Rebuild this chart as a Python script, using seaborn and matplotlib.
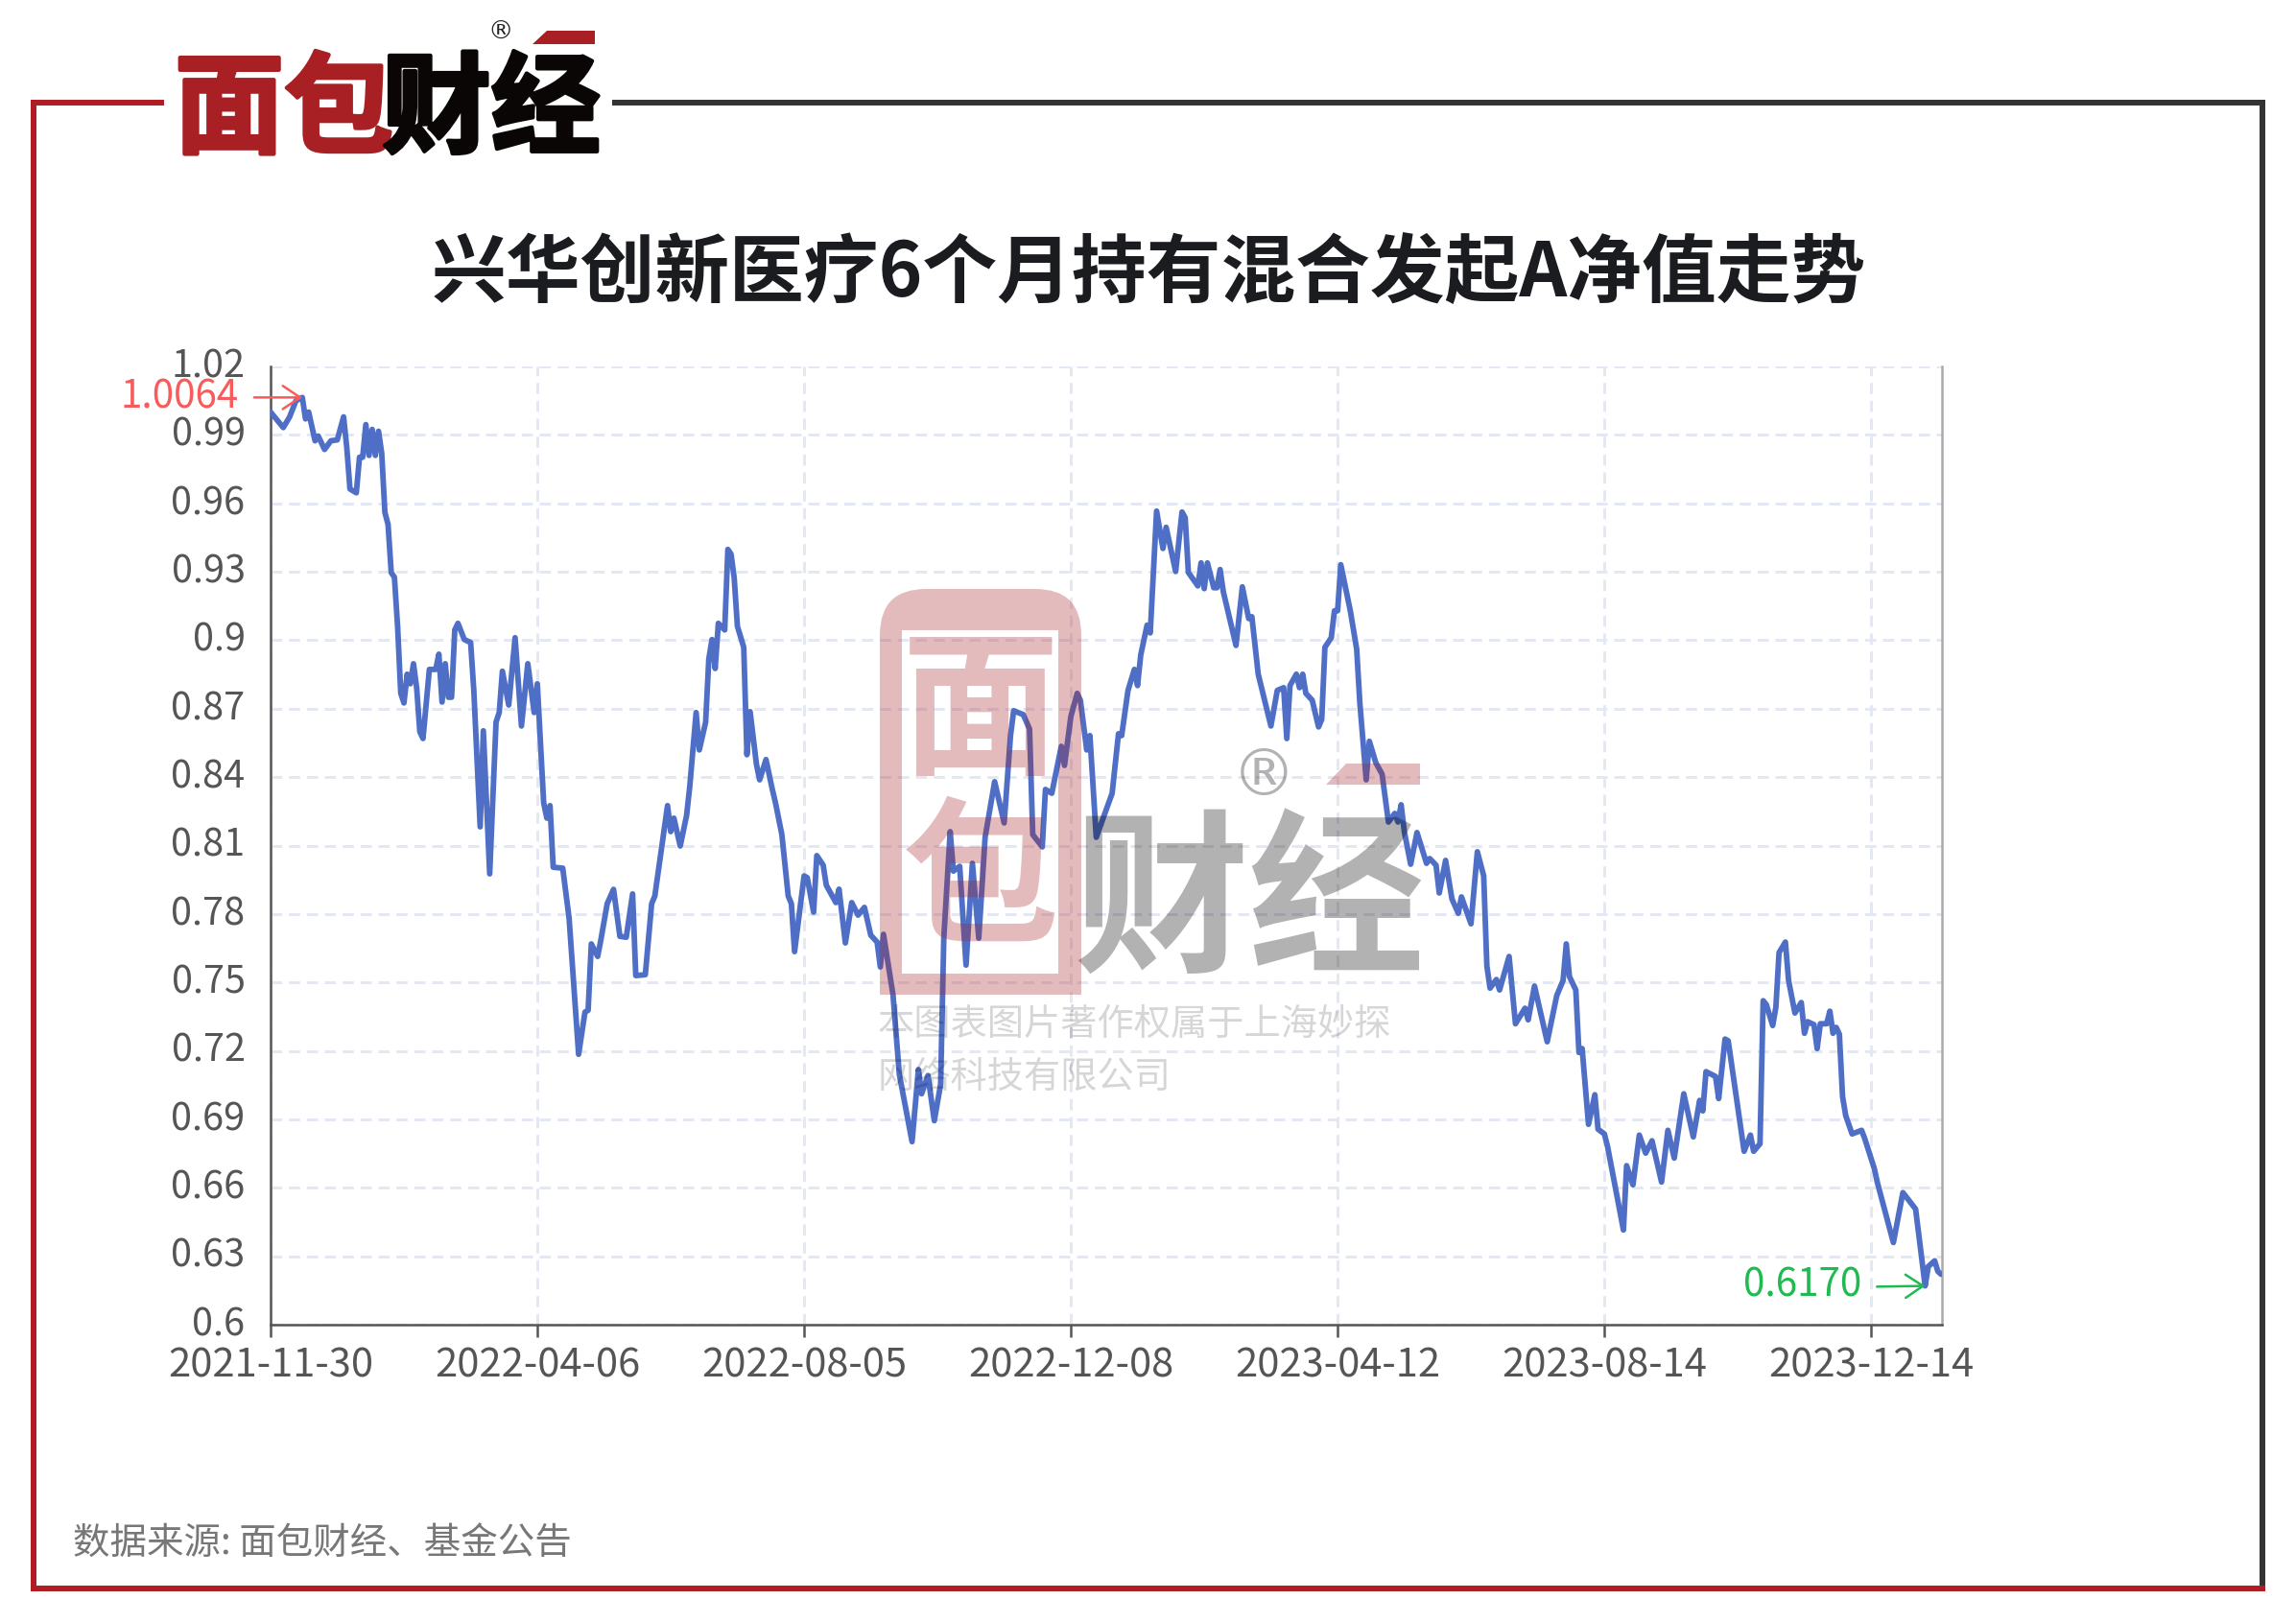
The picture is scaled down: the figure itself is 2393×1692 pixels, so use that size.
import matplotlib
matplotlib.use("Agg")
import matplotlib.pyplot as plt
import matplotlib.patheffects as pe
from matplotlib.lines import Line2D
from matplotlib.patches import PathPatch, Polygon
from matplotlib.path import Path
from matplotlib.transforms import ScaledTranslation
import pandas as pd
import seaborn as sns

# trading day index from the start date, and the net value read at that day
trading_day = [
    0, 4, 6, 8, 10, 11, 12, 14, 15, 17, 19, 21, 23, 24, 25, 27, 28, 29, 30, 31,
    32, 33, 34, 35, 36, 37, 38, 39, 40, 41, 42, 43, 44, 45, 46, 47, 48, 50, 52, 53,
    54, 55, 56, 57, 58, 59, 61, 63, 64, 66, 67, 69, 71, 72, 73, 75, 77, 79, 81, 83,
    84, 86, 87, 88, 89, 92, 94, 97, 99, 100, 101, 103, 104, 106, 108, 110, 112, 114, 115, 118,
    120, 121, 125, 126, 127, 129, 131, 132, 134, 135, 137, 138, 139, 140, 141, 143, 144, 145, 146, 147,
    149, 150, 151, 153, 154, 156, 158, 159, 161, 163, 164, 165, 168, 169, 171, 172, 174, 175, 178, 179,
    181, 183, 185, 187, 189, 191, 192, 193, 196, 198, 202, 204, 205, 207, 209, 211, 212, 214, 215, 217,
    219, 221, 223, 225, 228, 231, 233, 234, 237, 239, 240, 243, 244, 246, 249, 250, 252, 254, 255, 257,
    258, 260, 265, 267, 268, 270, 272, 273, 274, 276, 277, 279, 281, 282, 285, 287, 288, 289, 292, 293,
    294, 295, 297, 298, 299, 300, 304, 306, 308, 309, 311, 315, 317, 319, 320, 321, 323, 324, 325, 326,
    328, 330, 331, 332, 334, 335, 336, 337, 340, 342, 343, 345, 346, 348, 350, 352, 354, 355, 356, 357,
    359, 361, 364, 365, 367, 368, 370, 372, 374, 375, 378, 380, 382, 383, 384, 386, 387, 390, 392, 395,
    396, 398, 402, 405, 407, 408, 409, 411, 412, 413, 415, 417, 418, 420, 421, 424, 426, 427, 429, 431,
    433, 435, 438, 440, 442, 445, 448, 450, 451, 452, 455, 456, 458, 459, 464, 466, 467, 469, 470, 471,
    473, 474, 475, 477, 478, 480, 482, 483, 484, 486, 487, 488, 490, 491, 492, 493, 494, 495, 496, 498,
    501, 502, 505, 506, 511, 514, 518, 521, 522, 524, 525, 526,
]
nav = [
    1.0000, 0.9932, 0.9979, 1.0050, 1.0064, 0.9970, 1.0000, 0.9874, 0.9895, 0.9836, 0.9874, 0.9878, 0.9979, 0.9844, 0.9663, 0.9646, 0.9802, 0.9802, 0.9945, 0.9810,
    0.9924, 0.9810, 0.9916, 0.9819, 0.9560, 0.9507, 0.9296, 0.9276, 0.9061, 0.8767, 0.8725, 0.8851, 0.8809, 0.8897, 0.8792, 0.8599, 0.8569, 0.8872, 0.8872, 0.8939,
    0.8729, 0.8897, 0.8750, 0.8750, 0.9045, 0.9074, 0.9003, 0.8990, 0.8780, 0.8182, 0.8603, 0.7976, 0.8641, 0.8683, 0.8864, 0.8716, 0.9011, 0.8624, 0.8897, 0.8683,
    0.8809, 0.8287, 0.8220, 0.8275, 0.8005, 0.8001, 0.7782, 0.7185, 0.7370, 0.7378, 0.7669, 0.7614, 0.7686, 0.7845, 0.7908, 0.7702, 0.7698, 0.7888, 0.7530, 0.7534,
    0.7845, 0.7879, 0.8275, 0.8161, 0.8220, 0.8098, 0.8232, 0.8359, 0.8683, 0.8519, 0.8641, 0.8918, 0.9003, 0.8876, 0.9074, 0.9045, 0.9398, 0.9377, 0.9272, 0.9061,
    0.8969, 0.8498, 0.8687, 0.8456, 0.8388, 0.8477, 0.8346, 0.8287, 0.8148, 0.7879, 0.7845, 0.7635, 0.7967, 0.7959, 0.7808, 0.8056, 0.8014, 0.7926, 0.7850, 0.7909,
    0.7673, 0.7850, 0.7795, 0.7829, 0.7707, 0.7677, 0.7568, 0.7711, 0.7446, 0.7096, 0.6802, 0.7118, 0.7012, 0.7092, 0.6894, 0.7054, 0.7698, 0.8161, 0.7988, 0.8009,
    0.7576, 0.8022, 0.7694, 0.8136, 0.8380, 0.8199, 0.8582, 0.8691, 0.8674, 0.8611, 0.8148, 0.8094, 0.8346, 0.8329, 0.8535, 0.8451, 0.8666, 0.8767, 0.8737, 0.8519,
    0.8582, 0.8136, 0.8329, 0.8590, 0.8582, 0.8780, 0.8872, 0.8801, 0.8935, 0.9066, 0.9032, 0.9566, 0.9402, 0.9495, 0.9301, 0.9562, 0.9537, 0.9297, 0.9238, 0.9339,
    0.9226, 0.9339, 0.9230, 0.9230, 0.9310, 0.9213, 0.8977, 0.9234, 0.9095, 0.9103, 0.8851, 0.8624, 0.8780, 0.8792, 0.8569, 0.8801, 0.8851, 0.8792, 0.8851, 0.8767,
    0.8737, 0.8620, 0.8653, 0.8969, 0.9011, 0.9129, 0.9129, 0.9331, 0.9129, 0.8961, 0.8725, 0.8388, 0.8557, 0.8464, 0.8413, 0.8203, 0.8241, 0.8203, 0.8279, 0.8161,
    0.8018, 0.8157, 0.8022, 0.8043, 0.8014, 0.7892, 0.8035, 0.7866, 0.7803, 0.7875, 0.7757, 0.8073, 0.7967, 0.7572, 0.7475, 0.7513, 0.7467, 0.7614, 0.7319, 0.7387,
    0.7336, 0.7484, 0.7240, 0.7442, 0.7509, 0.7669, 0.7526, 0.7467, 0.7193, 0.7210, 0.6878, 0.7008, 0.6857, 0.6836, 0.6781, 0.6562, 0.6415, 0.6697, 0.6613, 0.6831,
    0.6752, 0.6806, 0.6625, 0.6852, 0.6730, 0.7012, 0.6823, 0.6983, 0.6937, 0.7109, 0.7088, 0.6991, 0.7252, 0.7244, 0.6760, 0.6831, 0.6760, 0.6793, 0.7420, 0.7403,
    0.7311, 0.7391, 0.7631, 0.7677, 0.7509, 0.7366, 0.7412, 0.7277, 0.7328, 0.7315, 0.7210, 0.7319, 0.7319, 0.7374, 0.7277, 0.7303, 0.7273, 0.7000, 0.6916, 0.6836,
    0.6852, 0.6815, 0.6684, 0.6621, 0.6360, 0.6579, 0.6507, 0.6170, 0.6255, 0.6280, 0.6234, 0.6221,
]

x_tick_days = [0, 84, 168, 252, 336, 420, 504]
x_tick_labels = ["2021-11-30", "2022-04-06", "2022-08-05", "2022-12-08", "2023-04-12", "2023-08-14", "2023-12-14"]
y_ticks = [0.6, 0.63, 0.66, 0.69, 0.72, 0.75, 0.78, 0.81, 0.84, 0.87, 0.9, 0.93, 0.96, 0.99, 1.02]
y_tick_labels = ["0.6", "0.63", "0.66", "0.69", "0.72", "0.75", "0.78", "0.81", "0.84", "0.87", "0.9", "0.93", "0.96", "0.99", "1.02"]

title = "兴华创新医疗6个月持有混合发起A净值走势"
source = "数据来源: 面包财经、基金公告"
max_day, max_nav = 10, 1.0064
min_day, min_nav = 521, 0.6170

W, H = 2393, 1692
RED = "#a81f24"
DARK = "#333333"


def fx(px):
    return px / W


def fy(px):
    return 1 - px / H


sns.set_theme(style="white")
plt.rcParams["font.family"] = ["Noto Sans CJK SC", "DejaVu Sans"]

fig = plt.figure(figsize=(W / 100, H / 100), dpi=100, facecolor="white")
ax = fig.add_axes([fx(282), fy(1381), (2024 - 282) / W, (1381 - 382) / H])

df = pd.DataFrame({"day": trading_day, "nav": nav})
sns.lineplot(data=df, x="day", y="nav", ax=ax, estimator=None, sort=False,
             color="#4f6fc6", linewidth=4.2, zorder=3)
ax.lines[0].set_solid_joinstyle("round")

ax.set_xlim(0, 526.3)
ax.set_ylim(0.6, 1.02)
ax.set_xticks(x_tick_days)
ax.set_xticklabels(x_tick_labels)
ax.set_yticks(y_ticks)
ax.set_yticklabels(y_tick_labels)
ax.set_xlabel("")
ax.set_ylabel("")
ax.tick_params(axis="x", length=9, width=1.8, color="#555555", labelsize=30, labelcolor="#555555", pad=7, bottom=True)
ax.tick_params(axis="y", length=0, labelsize=28.5, labelcolor="#555555", pad=19, left=False)
ax.grid(True, color="#e3e8f5", linewidth=2.1, linestyle=(0, (4, 2.4)))
ax.set_axisbelow(True)

# y labels sit a little above their grid lines
shift_up = ScaledTranslation(0, 3 / 72, fig.dpi_scale_trans)
for lab in ax.get_yticklabels():
    lab.set_transform(lab.get_transform() + shift_up)

sns.despine(ax=ax, top=True, right=False)
ax.spines["left"].set(color="#555555", linewidth=1.8)
ax.spines["bottom"].set(color="#555555", linewidth=1.8)
ax.spines["right"].set(color="#aaaaaa", linewidth=1.8)

# marker labels with arrows
ax.annotate("1.0064", xy=(max_day, max_nav), xytext=(-66, 0), textcoords="offset pixels",
            ha="right", va="center", fontsize=29, color="#f75c5c",
            arrowprops=dict(arrowstyle="->,head_length=0.45,head_width=0.3", color="#f75c5c",
                            lw=1.8, shrinkA=9, shrinkB=0, relpos=(1, 0.5)), zorder=5)
ax.annotate("0.6170", xy=(min_day, min_nav), xytext=(-66, 1), textcoords="offset pixels",
            ha="right", va="center", fontsize=29, color="#1fbb50",
            arrowprops=dict(arrowstyle="->,head_length=0.45,head_width=0.3", color="#1fbb50",
                            lw=1.8, shrinkA=9, shrinkB=0, relpos=(1, 0.45)), zorder=5)

# outer frame
frame = [
    (32, 107, 171, 107, "#b01c24"),
    (35, 104, 35, 1659, "#b01c24"),
    (32, 1656, 2361, 1656, "#b01c24"),
    (638, 107, 2361, 107, DARK),
    (2358, 104, 2358, 1653, DARK),
]
for x0, y0, x1, y1, c in frame:
    fig.add_artist(Line2D([fx(x0), fx(x1)], [fy(y0), fy(y1)], transform=fig.transFigure,
                          color=c, linewidth=4.3, solid_capstyle="butt"))

# logo
heavy_red = [pe.withStroke(linewidth=3, foreground=RED)]
heavy_black = [pe.withStroke(linewidth=3, foreground="#0a0605")]
fig.text(fx(182), fy(117), "面包", color=RED, fontsize=82, fontweight="bold", ha="left", va="center", path_effects=heavy_red)
fig.text(fx(398), fy(117), "财经", color="#0a0605", fontsize=82, fontweight="bold", ha="left", va="center", path_effects=heavy_black)
fig.text(fx(522), fy(34), "®", color="#222222", fontsize=19, ha="center", va="center", family="DejaVu Sans")
fig.add_artist(Polygon([(fx(555), fy(46)), (fx(570), fy(32)), (fx(620), fy(32)), (fx(620), fy(46))],
                       transform=fig.transFigure, color=RED, lw=0))

fig.text(fx(1197), fy(287), title, color="#1a1c20", fontsize=56, fontweight="bold", ha="center", va="center")
fig.text(fx(76), fy(1609), source, color="#777777", fontsize=27.7, ha="left", va="center")

# watermark goes over the line: a rounded shell with the two characters inside
x0, x1, y0, y1, r = fx(917), fx(1127), fy(1037), fy(614), 48
rx, ry = r / W, r / H
outer = Path(
    [(x0, y0), (x1, y0), (x1, y1 - ry), (x1, y1), (x1 - rx, y1), (x0 + rx, y1), (x0, y1), (x0, y1 - ry), (x0, y0)],
    [Path.MOVETO, Path.LINETO, Path.LINETO, Path.CURVE3, Path.CURVE3, Path.LINETO, Path.CURVE3, Path.CURVE3, Path.CLOSEPOLY],
)
ix0, ix1, iy0, iy1 = fx(940), fx(1103), fy(1015), fy(657)
inner = Path(
    [(ix0, iy0), (ix0, iy1), (ix1, iy1), (ix1, iy0), (ix0, iy0)],
    [Path.MOVETO, Path.LINETO, Path.LINETO, Path.LINETO, Path.CLOSEPOLY],
)
fig.add_artist(PathPatch(Path.make_compound_path(outer, inner), transform=fig.transFigure,
                         facecolor=RED, alpha=0.3, lw=0, zorder=4))
fig.text(fx(1022), fy(746), "面", color=RED, alpha=0.3, fontsize=118, fontweight="bold", ha="center", va="center")
fig.text(fx(1022), fy(922), "包", color=RED, alpha=0.3, fontsize=118, fontweight="bold", ha="center", va="center")
fig.text(fx(1302), fy(946), "财经", color="black", alpha=0.3, fontsize=132, fontweight="bold", ha="center", va="center")
fig.text(fx(1317), fy(810), "®", color="black", alpha=0.3, fontsize=48, ha="center", va="center", family="DejaVu Sans")
fig.add_artist(Polygon([(fx(1382), fy(818)), (fx(1403), fy(796)), (fx(1480), fy(796)), (fx(1480), fy(818))],
                       transform=fig.transFigure, color=RED, alpha=0.3, lw=0, zorder=4))
fig.text(fx(915), fy(1068), "本图表图片著作权属于上海妙探", color="black", alpha=0.16, fontsize=27.5, ha="left", va="center")
fig.text(fx(915), fy(1123), "网络科技有限公司", color="black", alpha=0.16, fontsize=27.5, ha="left", va="center")

fig.savefig("out.png", dpi=100, facecolor="white")
